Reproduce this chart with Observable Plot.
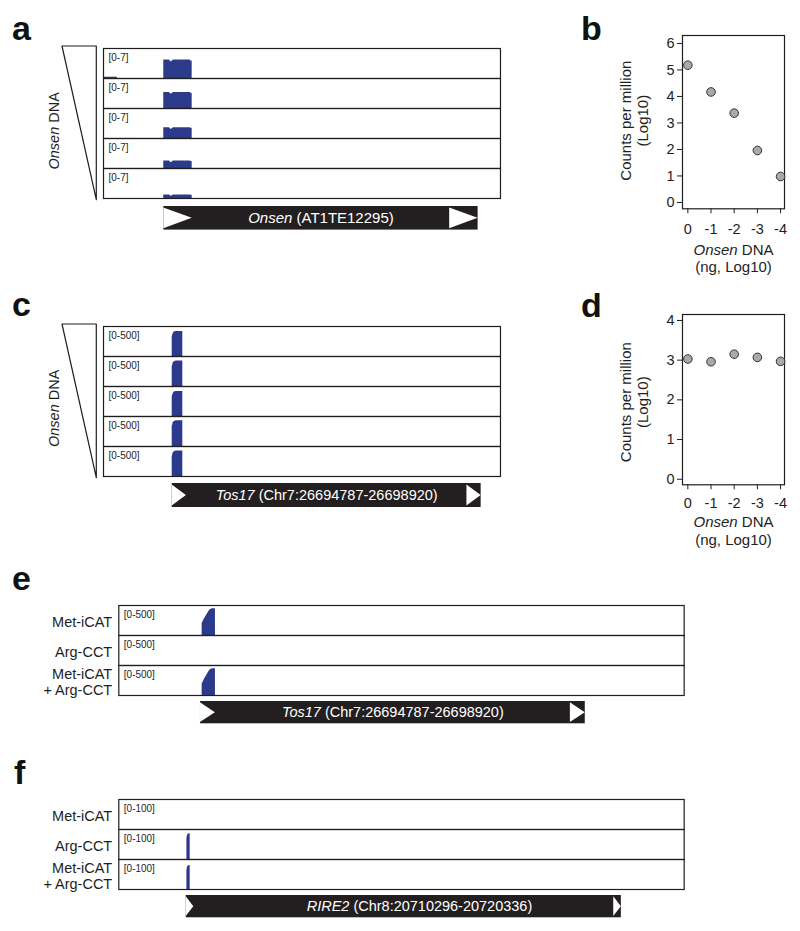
<!DOCTYPE html>
<html><head><meta charset="utf-8">
<script src="https://cdn.jsdelivr.net/npm/d3@7"></script>
<script src="https://cdn.jsdelivr.net/npm/@observablehq/plot@0.6"></script>
<style>
body{margin:0;background:#fff;}
#fig{position:relative;width:800px;height:931px;background:#fff;font-family:"Liberation Sans",Arial,Helvetica,sans-serif;overflow:hidden}
.letter{position:absolute;font-weight:bold;font-size:34px;line-height:34px;color:#111}
</style></head><body><div id="fig"></div>
<script>
// ---------------- data ----------------
const panelLetters = ["a", "b", "c", "d", "e", "f"];
const dilution = [0, -1, -2, -3, -4];                 // Onsen DNA (ng, log10)
const cpmTicksB = [0, 1, 2, 3, 4, 5, 6];
const cpmTicksD = [0, 1, 2, 3, 4];
const onsenCpm = [5.18, 4.17, 3.37, 1.96, 0.98];      // panel b
const tos17Cpm = [3.03, 2.96, 3.15, 3.07, 2.97];      // panel d

const dilutionTracks = ["0", "-1", "-2", "-3", "-4"];
const treatmentTracks = ["Met-iCAT", "Arg-CCT", "Met-iCAT\n+ Arg-CCT"];

const geneLabels = ["Onsen (AT1TE12295)", "Tos17 (Chr7:26694787-26698920)", "RIRE2 (Chr8:20710296-20720336)"];
const onsenSpan = [0, 4915];                 // bp, relative
const tos17Span = [26694787, 26698920];
const rire2Span = [20710296, 20720336];
const windowA = [-942, 5264];
const windowC = [26693868, 26699179];
const windowE = [26693910, 26699982];
const windowF = [20708741, 20721785];
const ltrA = 445, ltrC = 190, ltrE = 160, ltrF = 175;  // LTR lengths as drawn (bp)
const labelPosF = 20715678;

// coverage: positions are bp from the element start, values in track units
const aPos = [0, 89, 116, 152, 417, 417, 444];
const aCov = [
  [4.30, 4.30, 3.85, 4.30, 4.30, 4.10, 4.10],
  [3.72, 3.72, 3.30, 3.72, 3.72, 3.55, 3.55],
  [2.50, 2.50, 2.10, 2.50, 2.50, 2.38, 2.38],
  [1.73, 1.73, 1.35, 1.73, 1.73, 1.62, 1.62],
  [0.82, 0.82, 0.50, 0.82, 0.82, 0.75, 0.75]
];
const aBlipPos = [-942, -723];
const aBlipCov = [0.3, 0.3];

const cPos = [0, 13, 27, 53, 142];
const cCov = [
  [320, 385, 408, 418, 418],
  [325, 390, 413, 423, 423],
  [320, 385, 408, 418, 418],
  [330, 395, 418, 428, 428],
  [325, 390, 413, 423, 423]
];

const ePos = [18, 43, 72, 100, 126, 161];
const eCov = [
  [200, 280, 355, 425, 446, 446],
  null,
  [190, 272, 348, 420, 445, 445]
];

const fPos = [16, 30, 50, 92];
const fCov = [
  null,
  [70, 80, 85, 86],
  [64, 74, 79, 80]
];

// ---------------- drawing ----------------
const FONT = '"Liberation Sans", Arial, Helvetica, sans-serif';
const BLUE = "#2c3a8c";
const INK = "#1e1e1e";
const fig = document.getElementById("fig");
const baseStyle = `font-family:${FONT};font-size:14px;color:${INK};background:none;overflow:visible;`;

function place(node, x, y) {
  node.style.position = "absolute";
  node.style.left = x + "px";
  node.style.top = y + "px";
  node.style.overflow = "visible";
  fig.appendChild(node);
  return node;
}

function covRows(tracks, pos, cov, offset, tag) {
  const rows = [];
  tracks.forEach((t, i) => {
    const v = cov[i];
    if (!v) return;
    const id = t + tag;
    rows.push({track: t, id, x: offset + pos[0], y: 0});
    pos.forEach((p, j) => rows.push({track: t, id, x: offset + p, y: v[j]}));
    rows.push({track: t, id, x: offset + pos[pos.length - 1], y: 0});
  });
  return rows;
}

function trackPanel(p) {
  const W = p.frameRight + 12, mt = 5, mb = 5;
  const H = mt + mb + p.trackH * p.tracks.length;
  const marks = [
    Plot.areaY(p.coverage, {x: "x", y1: 0, y2: "y", z: "id", fy: "track", fill: BLUE, curve: "linear"}),
    Plot.frame({stroke: INK, strokeWidth: 1.2}),
    Plot.text(p.tracks, {fy: d => d, text: () => p.rangeLabel, frameAnchor: "top-left", dx: 5, dy: 5, fontSize: 10, fill: INK})
  ];
  if (p.rowLabels) {
    marks.push(Plot.text(p.tracks, {fy: d => d, text: d => d, frameAnchor: "left", textAnchor: "end", lineAnchor: "middle", dx: -6.6, dy: 1, fontSize: 14.5, lineHeight: 1.1, fill: INK}));
  }
  const svg = Plot.plot({
    width: W, height: H,
    marginLeft: p.frameLeft, marginRight: W - p.frameRight, marginTop: mt, marginBottom: mb,
    style: baseStyle,
    x: {domain: p.window, axis: null},
    y: {domain: [0, p.max], axis: null},
    fy: {domain: p.tracks, padding: 0, axis: null},
    marks
  });
  place(svg, 0, p.frameTop - mt);
}

function genePanel(g) {
  const W = g.frameRight + 12;
  const [s, e] = g.span;
  const tri = [
    {side: "L", x: s, y1: 0.06, y2: 0.94}, {side: "L", x: s + g.ltr, y1: 0.5, y2: 0.5},
    {side: "R", x: e - g.ltr, y1: 0.06, y2: 0.94}, {side: "R", x: e, y1: 0.5, y2: 0.5}
  ];
  const svg = Plot.plot({
    width: W, height: g.barH,
    marginLeft: g.frameLeft, marginRight: W - g.frameRight, marginTop: 0, marginBottom: 0,
    style: baseStyle,
    x: {domain: g.window, axis: null},
    y: {domain: [0, 1], axis: null},
    marks: [
      Plot.rect([g.span], {x1: d => d[0], x2: d => d[1], y1: 0, y2: 1, fill: "#231f20"}),
      Plot.areaY(tri, {x: "x", y1: "y1", y2: "y2", z: "side", fill: "white", curve: "linear"}),
      Plot.text([g.label], {x: () => g.labelAt ?? (s + e) / 2, y: 0.5, text: d => d, fill: "white", fontSize: g.fontSize ?? 14.5})
    ]
  });
  place(svg, 0, g.barTop);
}

function wedgePanel(frameTop, frameBottom, labelDy) {
  const left = 62, right = 96.3, mt = 5, mb = 5, W = 100;
  const wedge = [
    {level: dilution[0], amount: 1},
    {level: dilution[dilution.length - 1], amount: 0}
  ];
  const svg = Plot.plot({
    width: W, height: frameBottom - frameTop + mt + mb,
    marginLeft: left, marginRight: W - right, marginTop: mt, marginBottom: mb,
    style: baseStyle,
    x: {domain: [1, 0], axis: null},
    y: {domain: [dilution[dilution.length - 1], dilution[0]], axis: null},
    marks: [
      Plot.areaX(wedge, {y: "level", x1: 0, x2: "amount", fill: "white", stroke: INK, strokeWidth: 1.2}),
      Plot.text(["Onsen DNA"], {frameAnchor: "left", textAnchor: "middle", lineAnchor: "middle", rotate: -90, dx: -8, dy: labelDy, fontSize: 14.5, fill: INK})
    ]
  });
  place(svg, 0, frameTop - mt);
}

function scatterPanel(sc) {
  const H = sc.height;
  const svg = Plot.plot({
    width: 220, height: H,
    marginLeft: 102, marginRight: 16, marginTop: sc.frameTop, marginBottom: H - sc.frameBottom,
    style: baseStyle,
    x: {domain: [0.23, -4.17], label: null},
    y: {domain: sc.yDomain, label: null},
    marks: [
      Plot.frame({stroke: INK, strokeWidth: 1.2}),
      Plot.axisX({ticks: dilution, tickFormat: d => String(d), tickSize: 5, tickPadding: sc.xPad, label: null, fontSize: 14.5}),
      Plot.axisY({ticks: sc.ticks, tickFormat: d => String(d), tickSize: 5, tickPadding: 3, label: null, fontSize: 14.5}),
      Plot.dot(dilution.map((x, i) => ({x, y: sc.values[i]})), {x: "x", y: "y", r: 4.3, fill: "#a9a9a9", stroke: "#333", strokeWidth: 1}),
      Plot.text(["Counts per million\n(Log10)"], {frameAnchor: "left", textAnchor: "middle", lineAnchor: "middle", rotate: -90, dx: -48.5, dy: sc.yTitleDy, fontSize: 15, lineHeight: 1.15, fill: INK}),
      Plot.text(["Onsen DNA\n(ng, Log10)"], {frameAnchor: "bottom", textAnchor: "middle", lineAnchor: "middle", dy: sc.xTitleDy, fontSize: 15, lineHeight: 1.18, fill: INK})
    ]
  });
  place(svg, 580, sc.top);
}

// panel letters
const letterPos = [[12, 10.5], [581, 10.5], [12, 287], [581, 287.5], [12, 561], [14, 755]];
panelLetters.forEach((l, i) => {
  const d = document.createElement("div");
  d.className = "letter";
  d.textContent = l;
  d.style.left = letterPos[i][0] + "px";
  d.style.top = letterPos[i][1] + "px";
  fig.appendChild(d);
});

// a
wedgePanel(45.6, 199.3, 7.5);
trackPanel({
  tracks: dilutionTracks, window: windowA, max: 7, rangeLabel: "[0-7]",
  frameLeft: 103, frameRight: 500, frameTop: 45.6, trackH: 30.74,
  coverage: [...covRows(dilutionTracks, aPos, aCov, onsenSpan[0], "m"), ...covRows([dilutionTracks[0]], aBlipPos, [aBlipCov], onsenSpan[0], "b")]
});
genePanel({window: windowA, frameLeft: 103, frameRight: 500, barTop: 205.7, barH: 23.6, span: onsenSpan, ltr: ltrA, label: geneLabels[0], fontSize: 15});

// b
scatterPanel({top: 0, height: 285, frameTop: 35, frameBottom: 208.3, yDomain: [-0.24, 6.3], ticks: cpmTicksB, values: onsenCpm, xPad: 9.5, yTitleDy: -1.5, xTitleDy: 49});

// c
wedgePanel(324, 477.7, 7);
trackPanel({
  tracks: dilutionTracks, window: windowC, max: 500, rangeLabel: "[0-500]",
  frameLeft: 103, frameRight: 500, frameTop: 324, trackH: 30.74,
  coverage: covRows(dilutionTracks, cPos, cCov, tos17Span[0], "m")
});
genePanel({window: windowC, frameLeft: 103, frameRight: 500, barTop: 482.7, barH: 24, span: tos17Span, ltr: ltrC, label: geneLabels[1]});

// d
scatterPanel({top: 290, height: 270, frameTop: 24, frameBottom: 194.3, yDomain: [-0.14, 4.15], ticks: cpmTicksD, values: tos17Cpm, xPad: 8, yTitleDy: 2.5, xTitleDy: 45.6});

// e
trackPanel({
  tracks: treatmentTracks, window: windowE, max: 500, rangeLabel: "[0-500]", rowLabels: true,
  frameLeft: 118.3, frameRight: 683.7, frameTop: 604.3, trackH: 30.8,
  coverage: covRows(treatmentTracks, ePos, eCov, tos17Span[0], "m")
});
genePanel({window: windowE, frameLeft: 118.3, frameRight: 683.7, barTop: 701, barH: 22.3, span: tos17Span, ltr: ltrE, label: geneLabels[1]});

// f
trackPanel({
  tracks: treatmentTracks, window: windowF, max: 100, rangeLabel: "[0-100]", rowLabels: true,
  frameLeft: 118.3, frameRight: 683.7, frameTop: 799, trackH: 30.33,
  coverage: covRows(treatmentTracks, fPos, fCov, rire2Span[0], "m")
});
genePanel({window: windowF, frameLeft: 118.3, frameRight: 683.7, barTop: 895, barH: 22.3, span: rire2Span, ltr: ltrF, label: geneLabels[2], labelAt: labelPosF});

// italic element names
const ITALIC = /^(Onsen|Tos17|RIRE2)([\s\S]*)$/;
fig.querySelectorAll("text, tspan").forEach(el => {
  if (el.children.length) return;
  const m = (el.textContent || "").match(ITALIC);
  if (!m) return;
  el.textContent = "";
  const it = document.createElementNS("http://www.w3.org/2000/svg", "tspan");
  it.setAttribute("font-style", "italic");
  it.textContent = m[1];
  el.appendChild(it);
  el.appendChild(document.createTextNode(m[2]));
});
</script></body></html>
